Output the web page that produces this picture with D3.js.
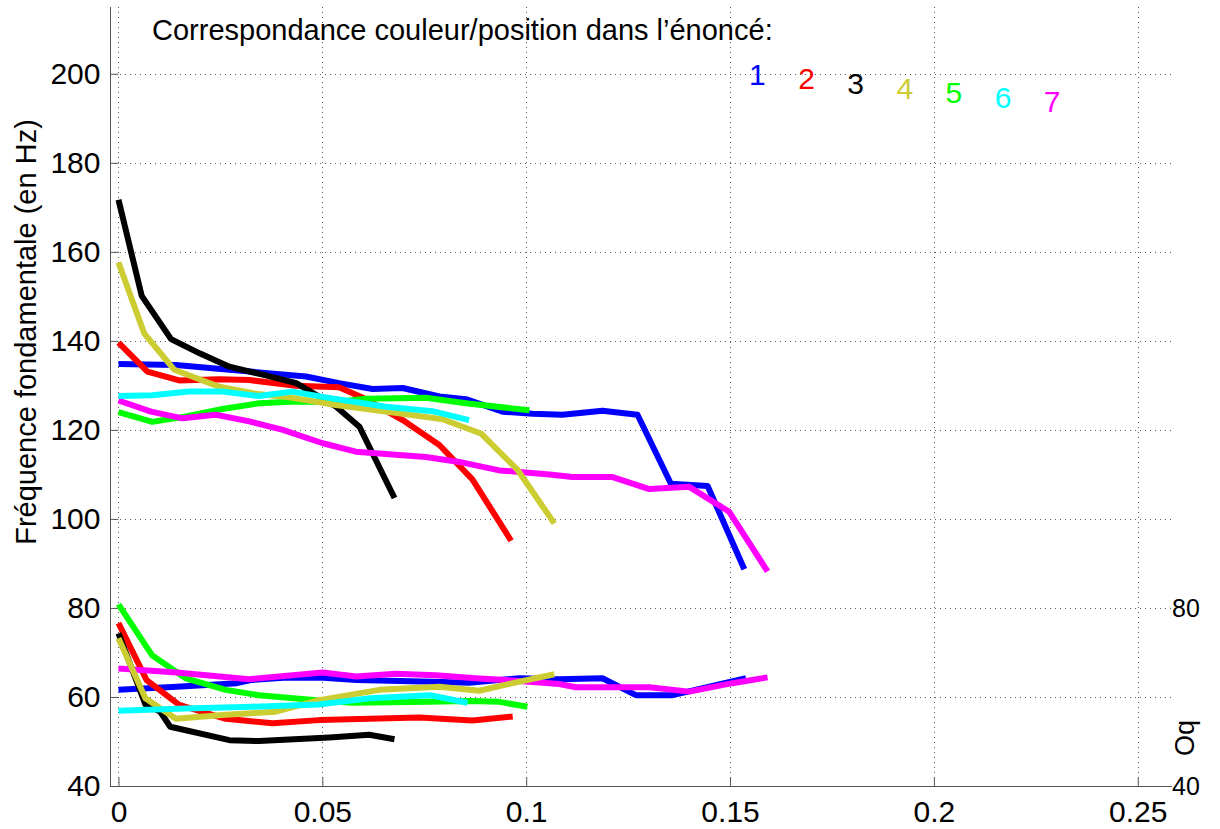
<!DOCTYPE html>
<html><head><meta charset="utf-8">
<script src="https://cdn.jsdelivr.net/npm/d3@7"></script>
<style>
html,body{margin:0;padding:0;background:#fff;}
text{font-family:"Liberation Sans",Arial,Helvetica,sans-serif;}
</style></head>
<body>
<svg id="chart" width="1220" height="829"></svg>
<script>
// ---- Data ----
const positions = ["1","2","3","4","5","6","7"];
const titleText = "Correspondance couleur/position dans l\u2019\u00e9nonc\u00e9:";
const yLabelText = "Fr\u00e9quence fondamentale (en Hz)";
const xTicks = [0, 0.05, 0.1, 0.15, 0.2, 0.25];
const xTickLabels = ["0", "0.05", "0.1", "0.15", "0.2", "0.25"];
const yTicks = [40, 60, 80, 100, 120, 140, 160, 180, 200];
const oqTicks = [40, 80];

// Series 1 (blue)
const f0_1_x = [0, 0.0141, 0.0272, 0.0460, 0.0541, 0.0623, 0.0697, 0.0787, 0.0852, 0.0942, 0.1016, 0.1089, 0.1187, 0.1273, 0.1355, 0.1445, 0.1535];
const f0_1_y = [134.8, 134.6, 133.5, 132.0, 130.5, 129.2, 129.4, 127.5, 126.9, 124.1, 123.6, 123.4, 124.3, 123.4, 107.9, 107.4, 88.7];
const oq_1_x = [0, 0.0143, 0.0290, 0.0325, 0.0405, 0.0503, 0.0584, 0.0770, 0.0860, 0.0983, 0.1081, 0.1187, 0.1269, 0.1359, 0.1539];
const oq_1_y = [61.6, 62.3, 63.1, 63.8, 64.3, 64.3, 63.8, 63.4, 63.2, 64.2, 64.0, 64.2, 60.4, 60.4, 64.2];
// Series 2 (red)
const f0_2_x = [0, 0.0071, 0.0149, 0.0247, 0.0321, 0.0435, 0.0541, 0.0598, 0.0697, 0.0787, 0.0868, 0.0963];
const f0_2_y = [139.6, 133.1, 131.1, 131.4, 131.2, 129.9, 129.6, 127.3, 122.2, 116.6, 108.9, 95.1];
const oq_2_x = [0, 0.0069, 0.0149, 0.0263, 0.0378, 0.0492, 0.0738, 0.0868, 0.0967];
const oq_2_y = [76.6, 63.8, 58.2, 55.1, 54.1, 54.8, 55.4, 54.7, 55.6];
// Series 3 (black)
const f0_3_x = [0, 0.0057, 0.0129, 0.0199, 0.0272, 0.0354, 0.0436, 0.0534, 0.0591, 0.0677];
const f0_3_y = [171.7, 150.1, 140.4, 137.2, 134.2, 132.4, 130.5, 125.2, 120.7, 104.7];
const oq_3_x = [0, 0.0066, 0.0102, 0.0127, 0.0272, 0.0345, 0.0517, 0.0615, 0.0677];
const oq_3_y = [74.3, 58.3, 56.7, 53.3, 50.3, 50.1, 50.9, 51.5, 50.5];
// Series 4 (olive yellow)
const f0_4_x = [0, 0.0063, 0.0137, 0.0247, 0.0337, 0.0419, 0.0533, 0.0697, 0.0795, 0.0889, 0.0979, 0.1069];
const f0_4_y = [157.6, 141.7, 133.5, 129.7, 128.1, 127.3, 125.6, 123.6, 122.4, 119.2, 111.0, 99.0];
const oq_4_x = [0, 0.0066, 0.0141, 0.0263, 0.0386, 0.0492, 0.0640, 0.0787, 0.0885, 0.0967, 0.1069];
const oq_4_y = [73.2, 59.7, 55.1, 56.0, 56.7, 59.3, 61.6, 62.3, 61.4, 63.1, 65.1];
// Series 5 (green)
const f0_5_x = [0, 0.0083, 0.0165, 0.0255, 0.0345, 0.0435, 0.0525, 0.0607, 0.0754, 0.0852, 0.1008];
const f0_5_y = [124.0, 121.8, 123.0, 124.7, 126.0, 126.4, 126.2, 127.0, 127.2, 126.0, 124.4];
const oq_5_x = [0, 0.0083, 0.0165, 0.0263, 0.0345, 0.0492, 0.0574, 0.0762, 0.0860, 0.0934, 0.1003];
const oq_5_y = [80.8, 69.3, 64.2, 61.6, 60.4, 59.2, 58.7, 58.9, 59.1, 58.9, 57.8];
// Series 6 (cyan)
const f0_6_x = [0, 0.0083, 0.0173, 0.0255, 0.0345, 0.0426, 0.0516, 0.0656, 0.0770, 0.0860];
const f0_6_y = [127.6, 127.8, 128.6, 128.6, 127.6, 128.6, 127.2, 125.2, 124.2, 122.2];
const oq_6_x = [0, 0.0163, 0.0327, 0.0490, 0.0617, 0.0764, 0.0856];
const oq_6_y = [56.9, 57.4, 57.8, 58.3, 59.7, 60.4, 58.7];
// Series 7 (magenta)
const f0_7_x = [0, 0.0080, 0.0157, 0.0239, 0.0321, 0.0403, 0.0501, 0.0582, 0.0754, 0.0836, 0.0934, 0.1057, 0.1114, 0.1212, 0.1302, 0.1400, 0.1498, 0.1592];
const f0_7_y = [126.6, 124.1, 122.6, 123.4, 121.9, 120.0, 117.0, 115.1, 113.9, 112.8, 110.9, 110.0, 109.4, 109.4, 106.7, 107.2, 101.6, 88.2];
const oq_7_x = [0, 0.0143, 0.0321, 0.0501, 0.0583, 0.0680, 0.0778, 0.0876, 0.0983, 0.1081, 0.1122, 0.1302, 0.1400, 0.1506, 0.1592];
const oq_7_y = [66.4, 65.5, 64.0, 65.5, 64.6, 65.2, 64.9, 64.2, 63.6, 62.9, 62.2, 62.2, 61.2, 63.1, 64.4];

// ---- Styles ----
const colors = ["#0000ff", "#ff0000", "#000000", "#cccc33", "#00ff00", "#00ffff", "#ff00ff"];
const drawOrder = [0, 1, 2, 4, 6, 3, 5];

const f0X = [f0_1_x, f0_2_x, f0_3_x, f0_4_x, f0_5_x, f0_6_x, f0_7_x];
const f0Y = [f0_1_y, f0_2_y, f0_3_y, f0_4_y, f0_5_y, f0_6_y, f0_7_y];
const oqX = [oq_1_x, oq_2_x, oq_3_x, oq_4_x, oq_5_x, oq_6_x, oq_7_x];
const oqY = [oq_1_y, oq_2_y, oq_3_y, oq_4_y, oq_5_y, oq_6_y, oq_7_y];

// ---- Layout ----
const L = 110, R = 1172, T = 7, B = 786;
const x = d3.scaleLinear().domain([-0.00208, 0.2584]).range([L, R]);
const y = d3.scaleLinear().domain([40, 215]).range([B, T]);

const svg = d3.select("#chart");
svg.append("rect").attr("width", 1220).attr("height", 829).attr("fill", "#fff");

// grid
const grid = svg.append("g").attr("stroke", "#5a5a5a").attr("stroke-width", 1).attr("stroke-dasharray", "1,4").attr("fill", "none");
grid.selectAll("line.v").data(xTicks).join("line")
  .attr("x1", d => Math.round(x(d)) + 0.5).attr("x2", d => Math.round(x(d)) + 0.5)
  .attr("y1", T).attr("y2", B);
grid.selectAll("line.h").data(yTicks.filter(d => d > 40)).join("line")
  .attr("x1", L).attr("x2", R)
  .attr("y1", d => Math.round(y(d)) + 0.5).attr("y2", d => Math.round(y(d)) + 0.5);

// axes
const axisColor = "#555";
const xAxis = d3.axisBottom(x).tickValues(xTicks).tickFormat((d, i) => xTickLabels[i]).tickSize(-9).tickPadding(14);
const gx = svg.append("g").attr("transform", `translate(0,${B + 0.5})`).call(xAxis);
gx.select(".domain").attr("d", `M${L},0H${R}`).attr("stroke", axisColor);
gx.selectAll(".tick line").attr("stroke", axisColor);
gx.selectAll(".tick text").attr("font-size", 30).attr("fill", "#000").attr("dy", "0.71em")
  .attr("font-family", '"Liberation Sans",Arial,sans-serif');

const yAxis = d3.axisLeft(y).tickValues(yTicks).tickSize(-8).tickPadding(10);
const gy = svg.append("g").attr("transform", `translate(${L + 0.5},0)`).call(yAxis);
gy.select(".domain").attr("d", `M0,${T}V${B}`).attr("stroke", axisColor);
gy.selectAll(".tick line").attr("stroke", axisColor);
gy.selectAll(".tick text").attr("font-size", 30).attr("fill", "#000")
  .attr("font-family", '"Liberation Sans",Arial,sans-serif');

// right Oq labels
svg.append("g").selectAll("text").data(oqTicks).join("text")
  .attr("x", R).attr("y", d => y(d)).attr("dy", "0.36em")
  .attr("font-size", 25).attr("fill", "#000").text(d => d);
svg.append("text").attr("transform", `translate(${1194},${738}) rotate(-90)`)
  .attr("text-anchor", "middle").attr("font-size", 27).attr("fill", "#000").text("Oq");

// y label
svg.append("text").attr("transform", `translate(36,${332}) rotate(-90)`)
  .attr("text-anchor", "middle").attr("font-size", 29).attr("fill", "#000").text(yLabelText);

// lines
const line = d3.line().x(d => x(d[0])).y(d => y(d[1]));
const lines = svg.append("g").attr("fill", "none").attr("stroke-width", 6)
  .attr("stroke-linejoin", "round").attr("stroke-linecap", "butt");
drawOrder.forEach(i => {
  lines.append("path").attr("stroke", colors[i])
    .attr("d", line(f0X[i].map((v, k) => [v, f0Y[i][k]])));
});
drawOrder.forEach(i => {
  lines.append("path").attr("stroke", colors[i])
    .attr("d", line(oqX[i].map((v, k) => [v, oqY[i][k]])));
});

// title annotation
svg.append("text").attr("x", 152).attr("y", 40).attr("font-size", 29).attr("fill", "#000").text(titleText);

// colored position labels
svg.append("g").selectAll("text").data(positions).join("text")
  .attr("x", (d, i) => x(0.1567 + i * 0.01205))
  .attr("y", (d, i) => y(197.5 - i * 1.02))
  .attr("text-anchor", "middle").attr("font-size", 30)
  .attr("fill", (d, i) => colors[i]).text(d => d);
</script>
</body></html>
